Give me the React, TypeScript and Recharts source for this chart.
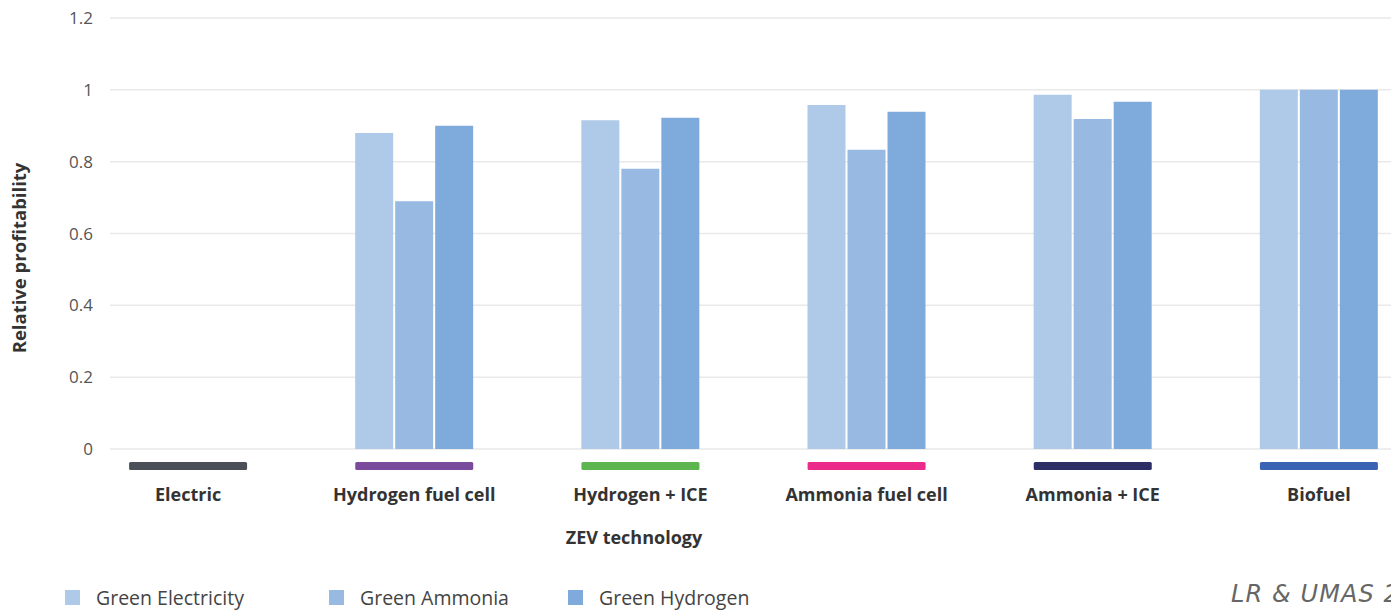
import { Bar, BarChart, CartesianGrid, Label, XAxis, YAxis } from "recharts";

const categories = ["Electric", "Hydrogen fuel cell", "Hydrogen + ICE", "Ammonia fuel cell", "Ammonia + ICE", "Biofuel"];
const techColors = ["#4b4f58", "#7a4b9c", "#5cb54f", "#ec2a8a", "#2b2f66", "#3b63b3"];
const greenElectricity = [0, 0.88, 0.915, 0.958, 0.986, 1.0];
const greenAmmonia = [0, 0.69, 0.78, 0.833, 0.919, 1.0];
const greenHydrogen = [0, 0.9, 0.922, 0.939, 0.967, 1.0];
const yTicks = [0, 0.2, 0.4, 0.6, 0.8, 1, 1.2];

const series = [
  { key: "electricity", label: "Green Electricity", color: "#aecae8" },
  { key: "ammonia", label: "Green Ammonia", color: "#98bae2" },
  { key: "hydrogen", label: "Green Hydrogen", color: "#7fabdc" },
];

const data = categories.map((name, i) => ({
  name,
  electricity: greenElectricity[i],
  ammonia: greenAmmonia[i],
  hydrogen: greenHydrogen[i],
}));

const FONT = "'Open Sans', 'Noto Sans', sans-serif";

const TechTick = (props: any) => {
  const { x, y, payload, index } = props;
  return (
    <g>
      <rect x={x - 59} y={y + 13} width={118} height={8} rx={1.5} fill={techColors[index]} />
      <text x={x} y={y + 52} textAnchor="middle" fontFamily={FONT} fontWeight={700} fontSize={18} fill="#333">
        {payload.value}
      </text>
    </g>
  );
};

export default function App() {
  return (
    <div style={{ position: "absolute", left: 0, top: 0, width: 1391, height: 613, overflow: "hidden", background: "#fff" }}>
      <BarChart
        width={1432}
        height={613}
        data={data}
        margin={{ top: 18, right: 0, bottom: 64, left: 0 }}
        barGap={2}
        barSize={38}
      >
        <CartesianGrid vertical={false} stroke="#e9e9e9" strokeWidth={1.5} />
        <XAxis
          dataKey="name"
          axisLine={false}
          tickLine={false}
          tickSize={0}
          tickMargin={0}
          height={100}
          padding={{ left: -35, right: 0 }}
          tick={<TechTick />}
          interval={0}
        >
          <Label
            content={() => (
              <text x={634} y={544} textAnchor="middle" fontFamily={FONT} fontWeight={700} fontSize={18} fill="#333">
                ZEV technology
              </text>
            )}
          />
        </XAxis>
        <YAxis
          width={110}
          domain={[0, 1.2]}
          ticks={yTicks}
          axisLine={false}
          tickLine={false}
          tickMargin={11}
          tick={{ fontFamily: FONT, fontSize: 17, fill: "#555" }}
        >
          <Label
            content={() => (
              <text
                x={26}
                y={258}
                transform="rotate(-90 26 258)"
                textAnchor="middle"
                fontFamily={FONT}
                fontWeight={700}
                fontSize={18.5}
                fill="#333"
              >
                Relative profitability
              </text>
            )}
          />
        </YAxis>
        {series.map((s) => (
          <Bar key={s.key} dataKey={s.key} name={s.label} fill={s.color} isAnimationActive={false} />
        ))}
      </BarChart>
      <div style={{ position: "absolute", left: 65, top: 584, display: "flex", fontFamily: FONT, fontSize: 19.5, color: "#444" }}>
        {series.map((s, i) => (
          <div key={s.key} style={{ display: "flex", alignItems: "center", width: i === 0 ? 264 : 239 }}>
            <span style={{ display: "inline-block", width: 15, height: 15, background: s.color, marginRight: 16 }} />
            {s.label}
          </div>
        ))}
      </div>
      <div
        style={{
          position: "absolute",
          left: 1231,
          top: 580,
          fontFamily: "'DejaVu Sans', sans-serif",
          fontStyle: "italic",
          fontWeight: 300,
          fontSize: 24,
          letterSpacing: 1.1,
          color: "#666",
          whiteSpace: "nowrap",
        }}
      >
        LR &amp; UMAS 2020
      </div>
    </div>
  );
}
